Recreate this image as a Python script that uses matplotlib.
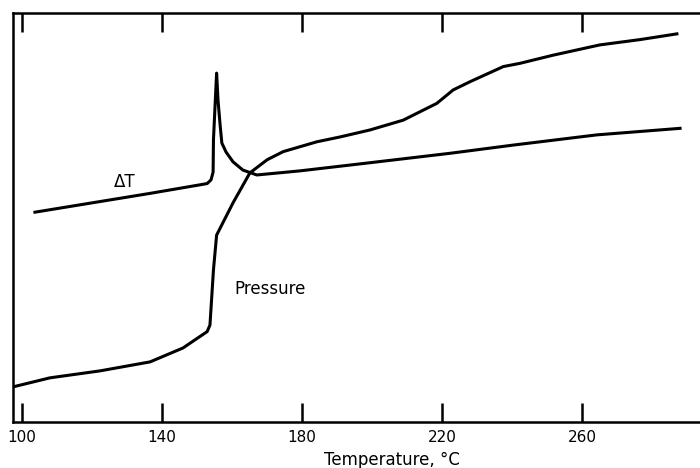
import matplotlib
matplotlib.use("Agg")
import matplotlib.pyplot as plt

# Temperature (°C) and relative signal (arbitrary units, 0-100)
dt_temp = [103.7, 122.3, 136.6, 150.9, 152.9, 154.0, 154.6, 154.7, 155.1, 155.6,
           156.0, 156.6, 157.1, 158.3, 160.3, 163.1, 167.1, 179.4, 198.5, 222.3,
           240.3, 264.2, 288.0]
dt_value = [51.3, 53.9, 55.9, 58.0, 58.3, 59.2, 61.1, 69.0, 76.3, 85.3,
            78.7, 72.6, 68.2, 66.0, 63.6, 61.6, 60.4, 61.4, 63.3, 65.7,
            67.7, 70.2, 71.8]

p_temp = [97.5, 108.0, 122.3, 136.6, 146.0, 152.9, 153.7, 154.7, 155.6,
          160.3, 165.1, 170.0, 174.6, 184.2, 190.9, 199.4, 208.9, 218.5, 223.2,
          228.0, 237.5, 242.3, 251.8, 265.1, 276.6, 287.1]
p_value = [8.6, 10.8, 12.5, 14.7, 18.1, 22.1, 23.7, 37.2, 45.7,
           53.6, 60.9, 64.1, 66.1, 68.5, 69.7, 71.4, 73.8, 77.9, 81.2,
           83.2, 86.9, 87.7, 89.7, 92.2, 93.5, 94.9]

xticks = [100, 140, 180, 220, 260]
xlabel = "Temperature, °C"

fig = plt.figure(figsize=(7.0, 4.68), dpi=100)
ax = fig.add_axes([13/700, 1 - 422/468, 1 - 13/700, (422 - 13)/468])

ax.plot(dt_temp, dt_value, color="black", lw=2.2, solid_joinstyle="round")
ax.plot(p_temp, p_value, color="black", lw=2.2, solid_joinstyle="round")

ax.set_xlim(97.43, 293.7)
ax.set_ylim(0, 100)

ax.set_xticks(xticks)
ax.set_xticklabels([str(t) for t in xticks], fontsize=11)
ax.set_yticks([])
ax.tick_params(axis="x", direction="in", length=14, width=1.8, top=True,
               bottom=True, pad=6)

for side in ["left", "top", "bottom"]:
    ax.spines[side].set_linewidth(1.8)
ax.spines["right"].set_visible(False)

ax.text(129.4, 58.7, "ΔT", fontsize=12, ha="center", va="center")
ax.text(170.9, 32.6, "Pressure", fontsize=12, ha="center", va="center")

fig.text(392/700, 1 - 460/468, xlabel, fontsize=12, ha="center", va="center")

fig.savefig("out.png", dpi=100)
